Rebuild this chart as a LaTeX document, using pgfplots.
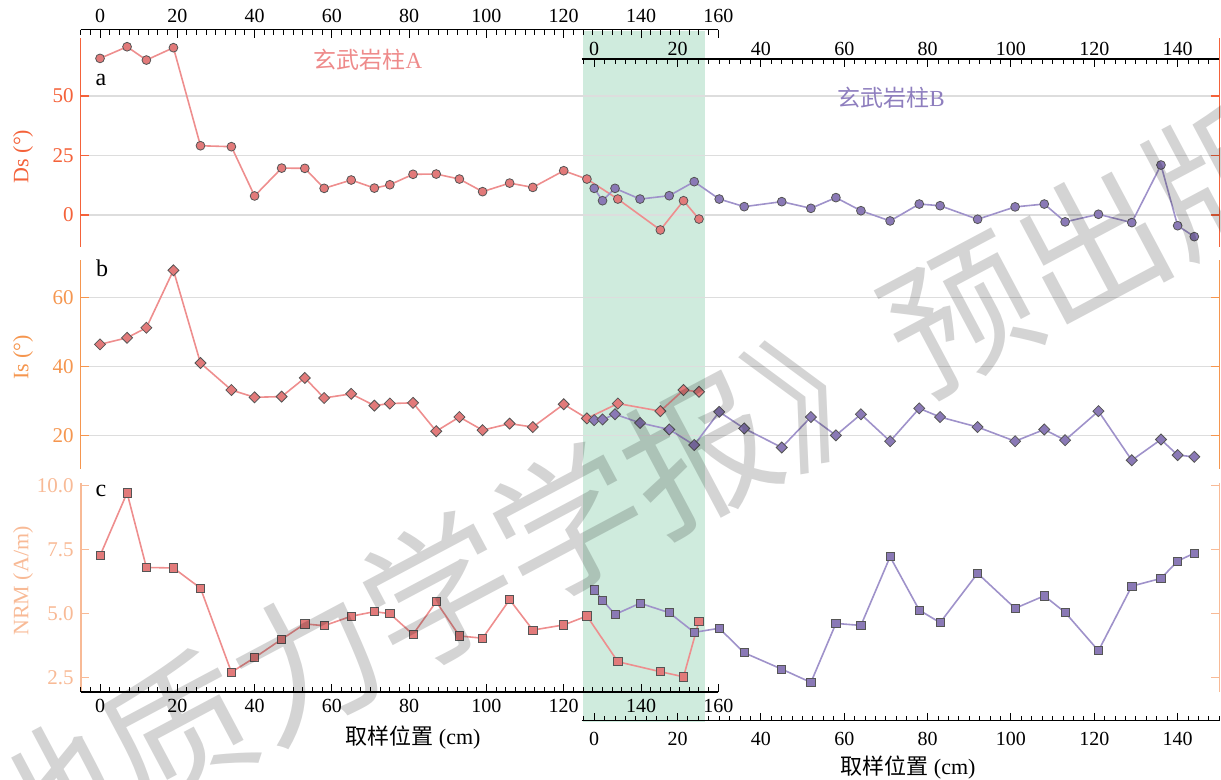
\documentclass[border=0pt]{standalone}
\usepackage{fontspec}
\setmainfont{Liberation Serif}
\newfontfamily\cjk{Noto Sans CJK SC}
\usepackage{pgfplots}
\usepackage{pgfplotstable}
\pgfplotsset{compat=1.18}

\definecolor{dsC}{HTML}{F4623A}
\definecolor{isC}{HTML}{F5964F}
\definecolor{nrmC}{HTML}{F8BA96}
\definecolor{aLine}{HTML}{EE8E8E}
\definecolor{aFill}{HTML}{E27A7A}
\definecolor{aText}{HTML}{EE8A8A}
\definecolor{bLine}{HTML}{9F92CA}
\definecolor{bFill}{HTML}{8A79B6}
\definecolor{bText}{HTML}{8E7EBE}
\definecolor{edgeC}{HTML}{555555}
\definecolor{bandC}{HTML}{CFEBDD}
\definecolor{gridC}{HTML}{DDDDDD}

% Column A (x in cm on the upper scale)
\pgfplotstableread{
x    ds    is    nrm
0    65.8  46.4  7.26
7    70.7  48.3  9.72
12   65.1  51.2  6.80
19   70.3  67.8  6.78
26   29.1  41.0  5.99
34   28.7  33.2  2.70
40   8.0   31.1  3.27
47   19.7  31.3  3.99
53   19.6  36.7  4.59
58   11.2  30.9  4.52
65   14.7  32.1  4.89
71   11.3  28.7  5.07
75   12.7  29.3  4.99
81   17.1  29.5  4.18
87   17.2  21.3  5.46
93   15.1  25.4  4.12
99   9.8   21.6  4.03
106  13.4  23.5  5.54
112  11.6  22.5  4.35
120  18.6  29.1  4.55
126  15.1  25.0  4.90
134  6.7   29.3  3.11
145  -6.3  27.1  2.72
151  6.0   33.2  2.52
155  -1.7  32.7  4.70
}\tA

% Column B (x in cm on the lower scale)
\pgfplotstableread{
x    ds    is    nrm
0    11.2  24.5  5.92
2    6.0   24.7  5.52
5    11.2  26.2  4.96
11   6.7   23.7  5.40
18   8.1   21.8  5.03
24   14.0  17.3  4.26
30   6.7   26.9  4.42
36   3.5   22.1  3.46
45   5.6   16.6  2.82
52   2.8   25.4  2.30
58   7.3   20.1  4.61
64   1.8   26.2  4.53
71   -2.5  18.4  7.22
78   4.6   27.9  5.13
83   3.9   25.4  4.64
92   -1.8  22.5  6.57
101  3.4   18.4  5.20
108  4.6   21.8  5.69
113  -2.9  18.7  5.04
121  0.3   27.1  3.54
129  -3.2  12.9  6.07
136  21.0  18.9  6.37
140  -4.5  14.4  7.05
144  -9.1  13.9  7.36
}\tB

\pgfplotsset{
  bgax/.style={scale only axis, anchor=south west, xmin=0, xmax=1,
    axis x line=none, axis y line=left, xtick=\empty,
    axis line style={-, line width=0.8pt, draw=#1},
    every inner y axis line/.append style={-}, every outer y axis line/.append style={-},
    y axis line style={-},
    ytick align=inside, major tick length=4pt,
    tick style={#1, line width=0.6pt},
    yticklabel style={text=#1, font=\fontsize{10.5}{12}\selectfont},
    /pgf/number format/assume math mode=true},
  dataA/.style={scale only axis, anchor=south west, hide axis, clip=false,
    width=318.8pt, xmin=-5, xmax=160},
  dataB/.style={scale only axis, anchor=south west, clip=false,
    width=318.8pt, xmin=-3, xmax=150,
    axis x line=none, axis y line=right, xtick=\empty,
    axis line style={-, line width=0.8pt, draw=#1},
    every inner y axis line/.append style={-}, every outer y axis line/.append style={-},
    y axis line style={-},
    ytick align=inside, major tick length=4pt,
    tick style={#1, line width=0.6pt}, yticklabels={}},
  xcarrier/.style={scale only axis, height=1pt, width=318.8pt,
    ymin=0, ymax=1, axis y line=none,
    axis line style={-, black, line width=0.8pt},
    every inner x axis line/.append style={-}, every outer x axis line/.append style={-},
    x axis line style={-},
    xtick align=inside, major tick length=4pt, minor tick length=2.5pt,
    tick style={black, line width=0.5pt},
    xticklabel style={font=\fontsize{10}{12}\selectfont},
    /pgf/number format/assume math mode=true},
  serA/.style={color=aLine, line width=0.8pt},
  serB/.style={color=bLine, line width=0.8pt},
}

\begin{document}
\begin{tikzpicture}
\path[use as bounding box] (0,0) rectangle (610.5pt,-390pt);

% overlap band
\begin{axis}[hide axis, scale only axis, at={(40.35pt,-361pt)}, anchor=south west,
  width=318.8pt, height=345.5pt, xmin=-5, xmax=160, ymin=0, ymax=1]
\fill[bandC] (axis cs:125.1,0) rectangle (axis cs:156.6,1);
\end{axis}

% ---------- panel a background ----------
\begin{axis}[bgax=dsC, at={(40.35pt,-123.5pt)}, width=569.3pt, height=104.5pt,
  ymin=-13.45, ymax=74.37, ytick={0,25,50}, ymajorgrids,
  grid style={gridC, line width=0.6pt}]
\end{axis}
% ---------- panel b background ----------
\begin{axis}[bgax=isC, at={(40.35pt,-234.5pt)}, width=569.3pt, height=104.5pt,
  ymin=10.38, ymax=70.78, ytick={20,40,60}, ymajorgrids,
  grid style={gridC, line width=0.6pt}]
\end{axis}
% ---------- panel c background ----------
\begin{axis}[bgax=nrmC, at={(40.35pt,-346pt)}, width=569.3pt, height=104.5pt,
  ymin=1.925, ymax=10.106, ytick={2.5,5,7.5,10},
  yticklabel style={/pgf/number format/.cd, fixed, fixed zerofill, precision=1}]
\end{axis}

% ---------- x axes ----------
\begin{axis}[axis x line=top, xcarrier, at={(40.35pt,-14.85pt)}, anchor=north west,
  xmin=-5, xmax=160,
  xtick={0,20,...,160}, minor xtick={-5,-2.5,...,160}]
\end{axis}
\begin{axis}[axis x line=top, xcarrier, at={(290.85pt,-29.5pt)}, anchor=north west,
  xmin=-3, xmax=150,
  xtick={0,20,...,140}, minor xtick={-2.5,0,...,150}, xticklabel shift=-2pt]
\end{axis}
\begin{axis}[axis x line=bottom, xcarrier, at={(40.35pt,-346pt)}, anchor=south west,
  xmin=-5, xmax=160,
  xtick={0,20,...,160}, minor xtick={-5,-2.5,...,160}]
\end{axis}
\begin{axis}[axis x line=bottom, xcarrier, at={(290.85pt,-360.25pt)}, anchor=south west,
  xmin=-3, xmax=150,
  xtick={0,20,...,140}, minor xtick={-2.5,0,...,150}, xticklabel shift=2.4pt]
\end{axis}

% ---------- panel a data ----------
\begin{axis}[dataA, at={(40.35pt,-123.5pt)}, height=104.5pt, ymin=-13.45, ymax=74.37]
\addplot[serA, mark=*, mark size=2.2pt,
  mark options={fill=aFill, draw=edgeC, line width=0.4pt}] table[x=x,y=ds]{\tA};
\end{axis}
\begin{axis}[dataB=dsC, at={(290.85pt,-123.5pt)}, height=104.5pt, ymin=-13.45, ymax=74.37,
  ytick={0,25,50}]
\addplot[serB, mark=*, mark size=2.2pt,
  mark options={fill=bFill, draw=edgeC, line width=0.4pt}] table[x=x,y=ds]{\tB};
\end{axis}

% ---------- panel b data ----------
\begin{axis}[dataA, at={(40.35pt,-234.5pt)}, height=104.5pt, ymin=10.38, ymax=70.78]
\addplot[serA, mark=square*, mark size=1.95pt,
  mark options={rotate=45, fill=aFill, draw=edgeC, line width=0.4pt}] table[x=x,y=is]{\tA};
\end{axis}
\begin{axis}[dataB=isC, at={(290.85pt,-234.5pt)}, height=104.5pt, ymin=10.38, ymax=70.78,
  ytick={20,40,60}]
\addplot[serB, mark=square*, mark size=1.95pt,
  mark options={rotate=45, fill=bFill, draw=edgeC, line width=0.4pt}] table[x=x,y=is]{\tB};
\end{axis}

% ---------- panel c data ----------
\begin{axis}[dataA, at={(40.35pt,-346pt)}, height=104.5pt, ymin=1.925, ymax=10.106]
\addplot[serA, mark=square*, mark size=2.05pt,
  mark options={fill=aFill, draw=edgeC, line width=0.4pt}] table[x=x,y=nrm]{\tA};
\end{axis}
\begin{axis}[dataB=nrmC, at={(290.85pt,-346pt)}, height=104.5pt, ymin=1.925, ymax=10.106,
  ytick={2.5,5,7.5,10}]
\addplot[serB, mark=square*, mark size=2.05pt,
  mark options={fill=bFill, draw=edgeC, line width=0.4pt}] table[x=x,y=nrm]{\tB};
\end{axis}

% ---------- texts ----------
\node[font=\fontsize{12}{14}\selectfont] at (50.5pt,-40pt) {a};
\node[font=\fontsize{12}{14}\selectfont] at (51pt,-134.25pt) {b};
\node[font=\fontsize{12}{14}\selectfont] at (50.5pt,-245.5pt) {c};
\node[text=aText, font=\fontsize{11.5}{13}\selectfont] at (184pt,-30pt) {{\cjk 玄武岩柱}A};
\node[text=bText, font=\fontsize{11.5}{13}\selectfont] at (445.5pt,-49pt) {{\cjk 玄武岩柱}B};
\node[rotate=90, text=dsC, font=\fontsize{11}{13}\selectfont] at (11.5pt,-78.25pt) {Ds (°)};
\node[rotate=90, text=isC, font=\fontsize{11}{13}\selectfont] at (11.5pt,-178.75pt) {Is (°)};
\node[rotate=90, text=nrmC, font=\fontsize{11}{13}\selectfont] at (11.5pt,-290.5pt) {NRM (A/m)};
\node[font=\fontsize{11}{13}\selectfont] at (206.5pt,-369pt) {{\cjk 取样位置} (cm)};
\node[font=\fontsize{11}{13}\selectfont] at (454pt,-383.75pt) {{\cjk 取样位置} (cm)};

% watermark
\node[rotate=28, text=black, text opacity=0.17, font=\cjk\fontsize{74}{74}\selectfont]
  at (317pt,-244pt) {地质力学学报》预出版};
\end{tikzpicture}
\end{document}
